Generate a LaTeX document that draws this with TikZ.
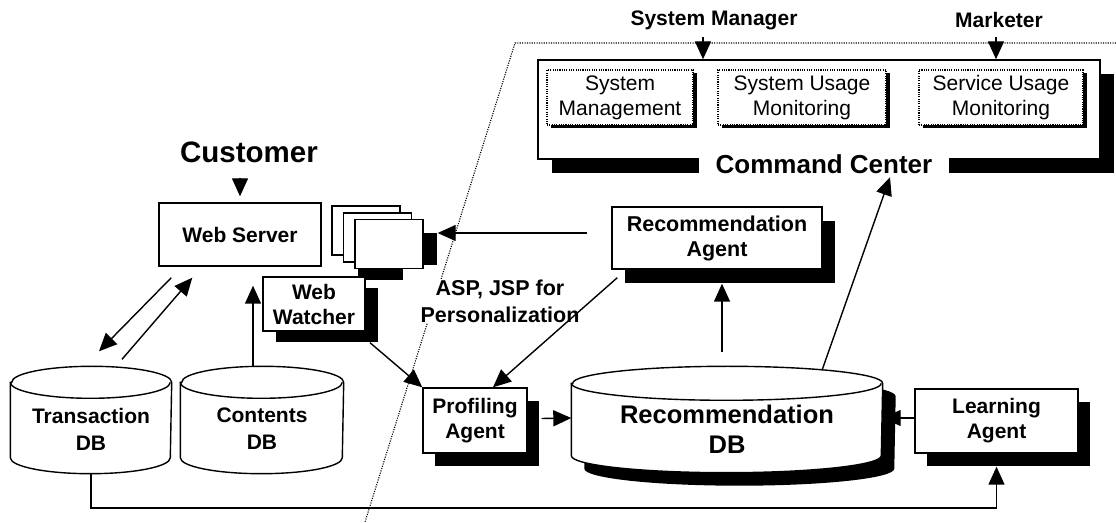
\documentclass[tikz,border=0pt]{standalone}
\usepackage{fontspec}
\setmainfont{Liberation Sans}
\usetikzlibrary{arrows.meta,calc,shadows}

% cylinder outline drawn inside the bounding box of a node
\newcommand{\dbcyl}[4]{%
  \path[#4] ($(#1.north west)+(0,-#3)$) -- ($(#1.south west)+(0,#3)$)
    arc[start angle=180,end angle=360,x radius=#2pt,y radius=#3pt]
    -- ($(#1.north east)+(0,-#3)$)
    arc[start angle=0,end angle=180,x radius=#2pt,y radius=#3pt] -- cycle;}
% front rim of the cylinder lid
\newcommand{\dbrim}[3]{%
  \draw ($(#1.north west)+(0,-#3)$)
    arc[start angle=180,end angle=360,x radius=#2pt,y radius=#3pt];}

\begin{document}
\begin{tikzpicture}[x=1pt,y=1pt,line width=1.4pt,
  arr/.style={-{Triangle[length=18pt,width=16pt]}},
  blackshadow/.style 2 args={drop shadow={shadow xshift=#1pt,shadow yshift=#2pt,fill=black,opacity=1}},
  boldtext/.style={font=\bfseries\fontsize{21}{25}\selectfont,align=center},
  agentbox/.style={draw,fill=white,inner sep=0pt,boldtext},
  modbox/.style={draw,line width=1.1pt,dash pattern=on 1.1pt off 1.2pt,fill=white,inner sep=0pt,align=center,
    font=\fontsize{21}{25}\selectfont,minimum height=55pt,blackshadow={4}{-3.5}},
  page/.style={draw,fill=white,inner sep=0pt,minimum width=68pt,minimum height=49pt},
  dbnode/.style={inner sep=0pt,minimum height=106pt}]
\useasboundingbox (0,0) rectangle (1116,522);

% boundary of the management side
\draw[line width=1.1pt,dash pattern=on 1.1pt off 1.3pt] (1116,479) -- (515,479) -- (365,0);

% command center
\node[draw,fill=white,minimum width=562pt,minimum height=99pt,inner sep=0pt,blackshadow={14}{-14}] (cc) at (819,412.5) {};
\node[modbox,minimum width=146pt] (smg) at (620,424.5) {System\\Management};
\node[modbox,minimum width=168pt] (sus) at (802,424.5) {System Usage\\Monitoring};
\node[modbox,minimum width=164pt] (svu) at (1001,424.5) {Service Usage\\Monitoring};
\node[fill=white,inner xsep=17pt,inner ysep=3pt,font=\bfseries\fontsize{26}{30}\selectfont] (ccl) at (824,358) {Command Center};

\node[boldtext] (sm) at (714,502) {System Manager};
\node[boldtext] (mk) at (999,502) {Marketer};

% customer side
\node[font=\bfseries\fontsize{29.5}{34}\selectfont] (cust) at (249,370) {Customer};
\node[agentbox,minimum width=162pt,minimum height=63pt] (ws) at (240,287.5) {Web Server};

% personalized pages
\node[page] (pg1) at (366,291.5) {};
\node[page] (pg2) at (377.5,284.5) {};
\fill (423,257) rectangle (437,289);
\fill (358,242) rectangle (403,254);
\node[page] (pg3) at (389,278) {};

\node[agentbox,minimum width=102pt,minimum height=54pt,blackshadow={13}{-11}] (ww) at (314,218) {Web\\Watcher};
\node[agentbox,font=\bfseries\fontsize{21.5}{25}\selectfont,minimum width=210pt,minimum height=62pt,blackshadow={13}{-14}] (ra) at (717,284) {Recommendation\\Agent};
\node[agentbox,minimum width=104pt,minimum height=65pt,blackshadow={12}{-13}] (pa) at (475,101.5) {Profiling\\Agent};
\node[agentbox,minimum width=163pt,minimum height=64pt,blackshadow={12}{-13}] (la) at (996.5,101) {Learning\\Agent};

\node[fill=white,inner sep=1pt,font=\bfseries\fontsize{21.5}{27}\selectfont,align=center] (asp) at (500,221) {ASP, JSP for\\Personalization};

% databases
\node[dbnode,minimum width=160pt] (tdb) at (91,102) {};
\dbcyl{tdb}{80}{16}{draw,fill=white}
\dbrim{tdb}{80}{16}
\node[boldtext,font=\bfseries\fontsize{21}{27}\selectfont] (tdbl) at (91,93) {Transaction\\DB};

\node[dbnode,minimum width=162pt] (cdb) at (262,102) {};
\dbcyl{cdb}{81}{16}{draw,fill=white}
\dbrim{cdb}{81}{16}
\node[boldtext,font=\bfseries\fontsize{21}{27}\selectfont] (cdbl) at (262,93) {Contents\\DB};

\node[inner sep=0pt,minimum width=310pt,minimum height=105pt] (rdb) at (727,102.5) {};
\begin{scope}[transform canvas={shift={(13pt,-13pt)}}]
  \dbcyl{rdb}{155}{17}{fill=black}
\end{scope}
\dbcyl{rdb}{155}{17}{draw,fill=white}
\dbrim{rdb}{155}{17}
\node[font=\bfseries\fontsize{25.5}{30}\selectfont,align=center] (rdbl) at (727,93) {Recommendation\\DB};

% connectors
\draw[arr] ($(cc.north)+(-116,22)$) -- ($(cc.north)+(-116,0)$);
\draw[arr] ($(cc.north)+(177,22)$) -- ($(cc.north)+(177,0)$);
\draw[arr] ($(ws.north)+(0,24)$) -- ($(ws.north)+(0,6)$);
\draw[arr] ($(ws.south west)+(13,-11)$) -- ($(tdb.north)+(8,15)$);
\draw[arr] ($(tdb.north)+(31,7)$) -- ($(ws.south west)+(34,-11)$);
\draw[arr] ($(cdb.north)+(-9,0)$) -- ($(ws.south)+(13,-19)$);
\draw[arr] ($(ra.west)+(-24,5)$) -- ($(pg3.east)+(14,11)$);
\draw[arr] ($(ww.south)+(56,-11)$) -- (pa.north west);
\draw[arr] ($(ra.south west)+(6,-8)$) -- ($(pa.north)+(18,0)$);
\draw[arr] ($(pa.east)+(14,2)$) -- ($(rdb.west)+(0,1.5)$);
\draw[arr] ($(la.west)+(0,3)$) -- ($(rdb.east)+(0,1.5)$);
\draw[arr] ($(rdb.north)+(-5,14)$) -- ($(ra.south)+(5,-14)$);
\draw[arr] ($(rdb.north)+(95,-4)$) -- ($(ccl.south)+(66,0)$);
\coordinate (bus) at (0,14);
\draw[arr] (tdb.south) -- (tdb.south |- bus) -| ($(la.south)+(0,-13)$);
\end{tikzpicture}
\end{document}
